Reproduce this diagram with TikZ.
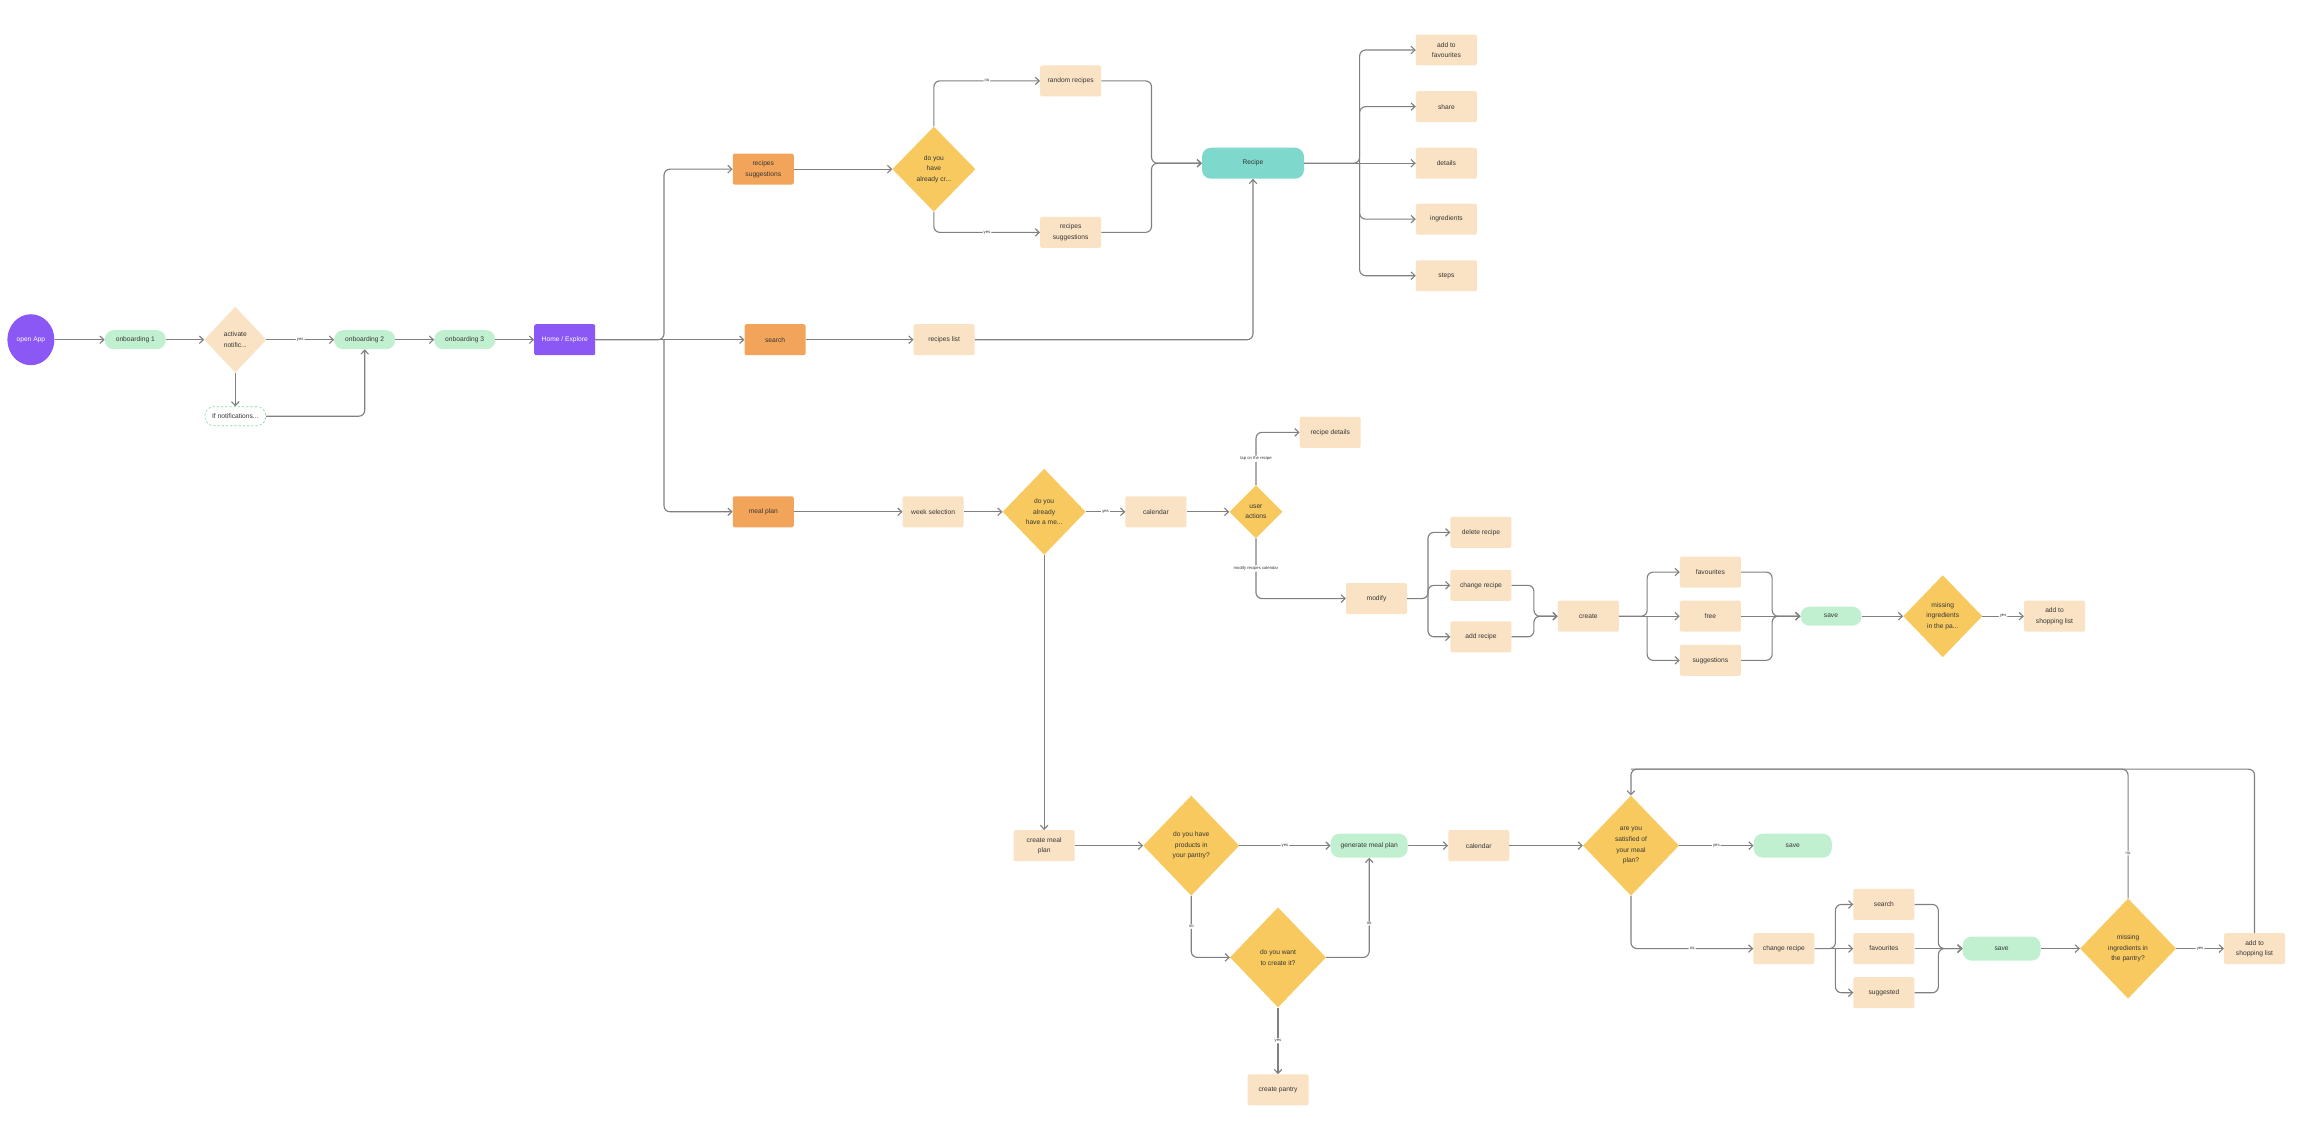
\documentclass[tikz,border=0pt]{standalone}
\usepackage{fontspec}
\setmainfont{Liberation Sans}
\usetikzlibrary{arrows.meta,positioning,shapes.geometric}
\definecolor{FlowPurple}{HTML}{8B57F5}
\definecolor{FlowMint}{HTML}{C1F0D0}
\definecolor{FlowMintLine}{HTML}{84D498}
\definecolor{FlowPeach}{HTML}{FAE2C4}
\definecolor{FlowOrange}{HTML}{F2A55A}
\definecolor{FlowYellow}{HTML}{F7C95F}
\definecolor{FlowTeal}{HTML}{7ED8CB}
\definecolor{FlowLine}{HTML}{808080}
\definecolor{FlowText}{HTML}{363636}
\tikzset{>={Straight Barb[length=2mm,width=3.8mm]},every node/.style={font=\fontsize{9.5}{15}\selectfont,
 text=FlowText,align=center},box/.style={rectangle,rounded corners=1mm,fill=FlowPeach,minimum width=30.5mm,
 minimum height=15.5mm,inner sep=1pt},hot/.style={box,fill=FlowOrange},hub/.style={box,fill=FlowPurple,text=white},
 pill/.style={rectangle,rounded corners=4.5mm,fill=FlowMint,minimum width=30.5mm,minimum height=9.5mm,inner sep=1pt},
 ask/.style 2 args={diamond,fill=FlowYellow,inner sep=0pt,minimum width=#1,minimum height=#2},
 flow/.style={draw=FlowLine,line width=1.6pt,rounded corners=3mm,->},
 tag/.style={font=\fontsize{6}{7}\selectfont,fill=white,inner sep=1.5pt,text=FlowText}}
\begin{document}
\begin{tikzpicture}[x=0.7354mm,y=-0.7354mm]
\fill[white] (0,0) rectangle (1568,774);\useasboundingbox (0,0) rectangle (1568,774);
\node[ellipse,fill=FlowPurple,text=white,minimum width=23.5mm,minimum height=25.5mm,inner sep=0pt] (open) at (21,231) {open App};
\node[pill] (ob1) at (92,231) {onboarding 1};\node[ask={31mm}{33mm},fill=FlowPeach] (notify) at (160,231) {activate\\notific...};
\node[pill] (ob2) at (248,231) {onboarding 2};\node[pill] (ob3) at (316,231) {onboarding 3};
\node[hub] (home) at (384,231) {Home / Explore};
\node[pill,fill=white,draw=FlowMintLine,dashed,line width=0.9pt] (ifnote) at (160,283) {If notifications...};
\node[hot] (rsug) at (519,115) {recipes\\suggestions};\node[ask={41.5mm}{42.5mm}] (hasplan) at (635,115) {do you\\have\\already cr...};
\node[box] (rand) at (728,55) {random recipes};\node[box] (sugg) at (728,158) {recipes\\suggestions};
\node[pill,fill=FlowTeal,minimum width=51mm,minimum height=15.5mm] (recipe) at (852,111) {Recipe};
\node[box] (fav) at (983.5,34) {add to\\favourites};\node[box] (share) at (983.5,72.5) {share};
\node[box] (det) at (983.5,111) {details};\node[box] (ingr) at (983.5,149) {ingredients};
\node[box] (steps) at (983.5,187.5) {steps};
\node[hot] (search) at (527,231) {search};\node[box] (rlist) at (642,231) {recipes list};
\node[hot] (meal) at (519,348) {meal plan};\node[box] (week) at (634.5,348) {week selection};
\node[ask={41.5mm}{43mm}] (hasmeal) at (710,348) {do you\\already\\have a me...};
\node[box] (cal) at (786,348) {calendar};\node[ask={26.5mm}{26.5mm}] (useract) at (854,348) {user\\actions};
\node[box] (rdet) at (904.5,294) {recipe details};\node[box] (modify) at (936,407) {modify};
\node[box] (del) at (1007,362) {delete recipe};\node[box] (chg) at (1007,398) {change recipe};
\node[box] (add) at (1007,433) {add recipe};\node[box] (create) at (1080,419) {create};
\node[box] (cfav) at (1163,389) {favourites};\node[box] (cfree) at (1163,419) {free};
\node[box] (csug) at (1163,449) {suggestions};\node[pill] (save1) at (1245,419) {save};
\node[ask={39.5mm}{41mm}] (miss1) at (1321,419) {missing\\ingredients\\in the pa...};
\node[box] (shop1) at (1397,419) {add to\\shopping list};
\node[box] (cmp) at (710,575) {create meal\\plan};\node[ask={48mm}{50mm}] (prod) at (810,575) {do you have\\products in\\your pantry?};
\node[pill,minimum width=38.5mm,minimum height=12mm] (gen) at (931,575) {generate meal plan};
\node[box] (cal2) at (1005.5,575) {calendar};
\node[ask={48mm}{50mm}] (sat) at (1109,575) {are you\\satisfied of\\your meal\\plan?};
\node[pill,minimum width=39mm,minimum height=12mm] (save2) at (1219,575) {save};
\node[ask={48mm}{50mm}] (want) at (869,651) {do you want\\to create it?};\node[box] (pantry) at (869,741) {create pantry};
\node[box] (chg2) at (1213,645) {change recipe};\node[box] (srch2) at (1281,615) {search};
\node[box] (fav2) at (1281,645) {favourites};\node[box] (sugd) at (1281,675) {suggested};
\node[pill,minimum width=39mm,minimum height=12mm] (save3) at (1361,645) {save};
\node[ask={48mm}{50mm}] (miss2) at (1447,645) {missing\\ingredients in\\the pantry?};
\node[box] (shop2) at (1533,645) {add to\\shopping list};
\coordinate (fk0) at (451.5,231);\coordinate (mg1) at (783,111);\coordinate (fk1) at (924.5,111);
\coordinate (fk2) at (971,407);\coordinate (mg2) at (1043,419);\coordinate (fk3) at (1120,419);
\coordinate (mg3) at (1205,419);\coordinate (fk4) at (1248,645);\coordinate (mg4) at (1318,645);
\coordinate (loop) at (1109,523);
\draw[flow] (open) -- (ob1);\draw[flow] (ob1) -- (notify);
\draw[flow] (notify) -- node[tag] {yes} (ob2);\draw[flow] (notify) -- (ifnote);
\draw[flow] (ifnote) -| (ob2);\draw[flow] (ob2) -- (ob3);\draw[flow] (ob3) -- (home);
\draw[flow] (home) -- (fk0) |- (rsug);\draw[flow] (home) -- (search);\draw[flow] (fk0) |- (meal);
\draw[flow] (rsug) -- (hasplan);\draw[flow] (hasplan) |- node[tag,pos=0.75] {no} (rand);
\draw[flow] (hasplan) |- node[tag,pos=0.75] {yes} (sugg);
\draw[flow] (rand) -| (mg1) -- (recipe);\draw[flow] (sugg) -| (mg1) -- (recipe);
\draw[flow] (recipe) -- (fk1) |- (fav);\draw[flow] (fk1) |- (share);\draw[flow] (recipe) -- (det);
\draw[flow] (fk1) |- (ingr);\draw[flow] (fk1) |- (steps);
\draw[flow] (search) -- (rlist);\draw[flow] (rlist) -| (recipe);
\draw[flow] (meal) -- (week);\draw[flow] (week) -- (hasmeal);\draw[flow] (hasmeal) -- node[tag] {yes} (cal);
\draw[flow] (cal) -- (useract);\draw[flow] (useract) |- node[tag,pos=0.25] {tap on the recipe} (rdet);
\draw[flow] (useract) |- node[tag,pos=0.25] {modify recipes calendar} (modify);
\draw[flow] (modify) -- (fk2) |- (del);\draw[flow] (fk2) |- (chg);\draw[flow] (fk2) |- (add);
\draw[flow] (chg) -| (mg2) -- (create);\draw[flow] (add) -| (mg2) -- (create);
\draw[flow] (create) -- (fk3) |- (cfav);\draw[flow] (create) -- (cfree);\draw[flow] (fk3) |- (csug);
\draw[flow] (cfav) -| (mg3) -- (save1);\draw[flow] (cfree) -- (save1);\draw[flow] (csug) -| (mg3) -- (save1);
\draw[flow] (save1) -- (miss1);\draw[flow] (miss1) -- node[tag] {yes} (shop1);
\draw[flow] (hasmeal) -- (cmp);\draw[flow] (cmp) -- (prod);\draw[flow] (prod) -- node[tag] {yes} (gen);
\draw[flow] (gen) -- (cal2);\draw[flow] (cal2) -- (sat);\draw[flow] (sat) -- node[tag] {yes} (save2);
\draw[flow] (prod) |- node[tag,pos=0.25] {no} (want);\draw[flow] (want) -| node[tag,pos=0.67] {no} (gen);
\draw[flow] (want) -- node[tag] {yes} (pantry);\draw[flow] (sat) |- node[tag,pos=0.75] {no} (chg2);
\draw[flow] (chg2) -- (fk4) |- (srch2);\draw[flow] (chg2) -- (fav2);\draw[flow] (fk4) |- (sugd);
\draw[flow] (srch2) -| (mg4) -- (save3);\draw[flow] (fav2) -- (save3);\draw[flow] (sugd) -| (mg4) -- (save3);
\draw[flow] (save3) -- (miss2);\draw[flow] (miss2) -- node[tag] {yes} (shop2);
\draw[flow] (miss2) |- node[tag,pos=0.175] {no} (loop) -- (sat);\draw[flow,-] (shop2) |- (loop);
\end{tikzpicture}
\end{document}
